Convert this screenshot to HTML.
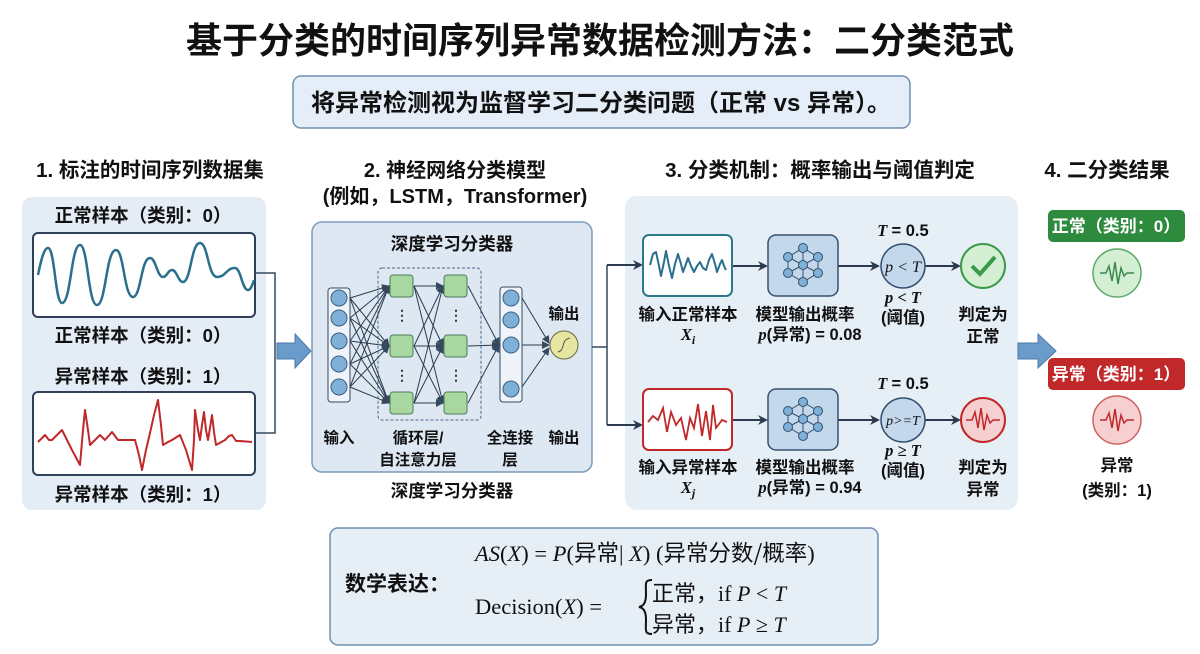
<!DOCTYPE html>
<html><head><meta charset="utf-8">
<style>
html,body{margin:0;padding:0;background:#fff;}
svg{display:block;font-family:"Liberation Sans","Noto Sans CJK SC",sans-serif;}
.b{font-weight:bold;}
.s{font-family:"Liberation Serif","Noto Serif CJK SC",serif;}
</style></head><body>
<svg width="1200" height="654" viewBox="0 0 1200 654" xmlns="http://www.w3.org/2000/svg">
<defs>
<marker id="ah" markerWidth="10" markerHeight="10" refX="8" refY="5" orient="auto" markerUnits="userSpaceOnUse"><path d="M0,0 L10,5 L0,10 L3,5 z" fill="#2b3a4e"/></marker>
<marker id="ah2" markerWidth="8" markerHeight="8" refX="7" refY="4" orient="auto" markerUnits="userSpaceOnUse"><path d="M0,0 L8,4 L0,8 z" fill="#34495e"/></marker>
</defs>
<text x="600" y="53" text-anchor="middle" class="b" font-size="36" fill="#111">基于分类的时间序列异常数据检测方法：二分类范式</text>
<rect x="293" y="76" width="617" height="52" rx="8" fill="#e5eef8" stroke="#6f8fb0" stroke-width="1.5"/>
<text x="601" y="111" text-anchor="middle" class="b" font-size="24" fill="#111">将异常检测视为监督学习二分类问题（正常 vs 异常）。</text>

<text x="150" y="177" text-anchor="middle" class="b" font-size="20.5" fill="#111">1. 标注的时间序列数据集</text>
<text x="455" y="177" text-anchor="middle" class="b" font-size="20" fill="#111">2. 神经网络分类模型</text>
<text x="455" y="203" text-anchor="middle" class="b" font-size="20" fill="#111">(例如，LSTM，Transformer)</text>
<text x="820" y="177" text-anchor="middle" class="b" font-size="20.5" fill="#111">3. 分类机制：概率输出与阈值判定</text>
<text x="1107" y="177" text-anchor="middle" class="b" font-size="20.5" fill="#111">4. 二分类结果</text>

<!-- panel 1 -->
<rect x="22" y="197" width="244" height="313" rx="10" fill="#e4edf6"/>
<text x="143" y="222" text-anchor="middle" class="b" font-size="18.5" fill="#111">正常样本（类别：0）</text>
<rect x="33" y="233" width="222" height="84" rx="5" fill="#fff" stroke="#2f4058" stroke-width="2"/>
<path fill="none" stroke="#2a6f8c" stroke-width="2.5" d="M38,275 C41,260 44,248 48,248 C55,248 55,303 62,303 C71,303 71,245 80,245 C88,245 88,305 97,305 C106,305 106,250 116,250 C124,250 124,297 133,297 C141,297 141,258 150,258 C156,258 157,277 163,277 C167,277 168,270 172,270 C177,270 178,282 183,282 C191,282 191,243 200,243 C208,243 208,277 217,277 C226,277 226,268 235,268 C241,268 242,290 248,290 C251,290 253,283 254,280"/>
<text x="143" y="342" text-anchor="middle" class="b" font-size="18.5" fill="#111">正常样本（类别：0）</text>
<text x="143" y="383" text-anchor="middle" class="b" font-size="18.5" fill="#111">异常样本（类别：1）</text>
<rect x="33" y="392" width="222" height="83" rx="5" fill="#fff" stroke="#2f4058" stroke-width="2"/>
<polyline fill="none" stroke="#c0282a" stroke-width="2" stroke-linejoin="round" points="38,442 42,438 45,435 49,440 52,440 58,434 62,430 67,440 72,450 80,465 83,430 85,410 88,430 90,445 95,440 100,435 105,440 112,432 118,440 127,440 135,440 139,455 142,470 146,450 150,433 154,415 158,400 161,425 163,445 168,442 172,440 180,435 186,450 192,470 194,440 195,410 198,430 200,440 202,425 204,412 206,430 208,440 210,428 212,415 214,432 216,445 225,440 229,436 232,435 236,441 240,441 252,442"/>
<text x="143" y="501" text-anchor="middle" class="b" font-size="18.5" fill="#111">异常样本（类别：1）</text>
<polyline fill="none" stroke="#34495e" stroke-width="1.5" points="255,273 275,273 275,433 255,433"/>
<path d="M277,343 L295,343 L295,334 L311,351 L295,368 L295,359 L277,359 z" fill="#6a9bcb" stroke="#4b7aa8"/>

<!-- panel 2 -->
<rect x="312" y="222" width="280" height="250" rx="10" fill="#dde8f3" stroke="#7d9bbb" stroke-width="1.5"/>
<text x="452" y="250" text-anchor="middle" class="b" font-size="17.5" fill="#111">深度学习分类器</text>
<rect x="378" y="268" width="103" height="152" rx="4" fill="none" stroke="#4a6a8a" stroke-dasharray="3,2"/>
<g stroke="#2b3a4e" stroke-width="1" fill="none" marker-end="url(#ah2)">
<path d="M350,298 L389,286"/><path d="M350,298 L389,346"/><path d="M350,298 L389,403"/>
<path d="M350,318 L389,286"/><path d="M350,318 L389,346"/><path d="M350,318 L389,403"/>
<path d="M350,341 L389,286"/><path d="M350,341 L389,346"/><path d="M350,341 L389,403"/>
<path d="M350,364 L389,286"/><path d="M350,364 L389,346"/><path d="M350,364 L389,403"/>
<path d="M350,387 L389,286"/><path d="M350,387 L389,346"/><path d="M350,387 L389,403"/>
<path d="M414,286 L443,286"/><path d="M414,286 L443,346"/><path d="M414,286 L443,403"/>
<path d="M414,346 L443,286"/><path d="M414,346 L443,346"/><path d="M414,346 L443,403"/>
<path d="M414,403 L443,286"/><path d="M414,403 L443,346"/><path d="M414,403 L443,403"/>
<path d="M468,286 L499,345"/><path d="M468,346 L499,345"/><path d="M468,403 L499,345"/>
<path d="M522,298 L549,343"/><path d="M522,345 L549,345"/><path d="M522,387 L549,348"/>
</g>
<rect x="328" y="288" width="22" height="114" rx="3" fill="#eef4fa" stroke="#34495e"/>
<g fill="#7eb0d8" stroke="#3d5f80"><circle cx="339" cy="298" r="8"/><circle cx="339" cy="318" r="8"/><circle cx="339" cy="341" r="8"/><circle cx="339" cy="364" r="8"/><circle cx="339" cy="387" r="8"/></g>
<g fill="#a8d8a0" stroke="#4f7a5a"><rect x="390" y="275" width="23" height="22" rx="3"/><rect x="390" y="335" width="23" height="22" rx="3"/><rect x="390" y="392" width="23" height="22" rx="3"/><rect x="444" y="275" width="23" height="22" rx="3"/><rect x="444" y="335" width="23" height="22" rx="3"/><rect x="444" y="392" width="23" height="22" rx="3"/></g>
<g font-size="14" class="b" fill="#333" text-anchor="middle"><text x="402" y="320">⋮</text><text x="402" y="380">⋮</text><text x="456" y="320">⋮</text><text x="456" y="380">⋮</text><text x="511" y="374">⋮</text></g>
<rect x="500" y="287" width="22" height="115" rx="3" fill="#eef4fa" stroke="#34495e"/>
<g fill="#7eb0d8" stroke="#3d5f80"><circle cx="511" cy="298" r="8"/><circle cx="511" cy="320" r="8"/><circle cx="511" cy="345" r="8"/><circle cx="511" cy="389" r="8"/></g>
<circle cx="564" cy="345" r="14" fill="#e6e6a0" stroke="#6a6a40"/>
<path d="M558,352 C566,350 560,340 570,338" fill="none" stroke="#555"/>
<text x="564" y="319" text-anchor="middle" class="b" font-size="15.5" fill="#111">输出</text>
<g text-anchor="middle" class="b" font-size="15.5" fill="#111">
<text x="339" y="443">输入</text><text x="418" y="443">循环层/</text><text x="418" y="465">自注意力层</text>
<text x="510" y="443">全连接</text><text x="510" y="465">层</text><text x="564" y="443">输出</text></g>
<text x="452" y="497" text-anchor="middle" class="b" font-size="17.5" fill="#111">深度学习分类器</text>
<polyline fill="none" stroke="#34495e" stroke-width="1.5" points="592,347 607,347"/>
<polyline fill="none" stroke="#34495e" stroke-width="1.5" points="607,265 607,425"/>

<!-- panel 3 -->
<rect x="625" y="196" width="393" height="314" rx="12" fill="#e6eef6"/>
<g stroke="#2b3a4e" stroke-width="2" fill="none" marker-end="url(#ah)">
<path d="M607,265 L641,265"/><path d="M607,425 L641,425"/>
<path d="M732,266 L766,266"/><path d="M838,266 L878,266"/><path d="M925,266 L959,266"/>
<path d="M732,420 L766,420"/><path d="M838,420 L878,420"/><path d="M925,420 L959,420"/>
</g>
<rect x="643" y="235" width="89" height="61" rx="6" fill="#fff" stroke="#2a7a8c" stroke-width="2"/>
<polyline fill="none" stroke="#2a6f8c" stroke-width="2" stroke-linejoin="round" points="650,265 653,254 656,252 659,266 661,276 664,262 666,251 669,266 672,278 675,264 678,254 681,264 683,272 686,264 688,258 691,266 694,272 697,266 700,262 703,268 706,270 709,260 712,254 715,264 717,272 720,264 722,260 724,266 726,270"/>
<rect x="768" y="235" width="70" height="61" rx="8" fill="#c4d8ec" stroke="#34506e" stroke-width="1.5"/>
<rect x="643" y="389" width="89" height="61" rx="6" fill="#fff" stroke="#c0282a" stroke-width="2"/>
<polyline fill="none" stroke="#c0282a" stroke-width="1.8" points="648,422 653,416 658,420 663,408 667,432 671,412 676,425 681,418 686,440 690,418 694,428 698,404 702,436 706,411 710,440 713,405 716,428 722,420 727,422"/>
<rect x="768" y="389" width="70" height="61" rx="8" fill="#c4d8ec" stroke="#34506e" stroke-width="1.5"/>
<g stroke="#34506e" stroke-width="1" fill="#7eb0d8">
<g transform="translate(803,265)"><path d="M-15,-8 L0,-17 L15,-8 L15,8 L0,17 L-15,8 z M-15,-8 L0,0 L15,8 M15,-8 L0,0 L-15,8 M0,-17 L0,17 M-15,-8 L15,8 M-15,8 L15,-8" fill="none"/><circle cx="0" cy="-17" r="4.5"/><circle cx="-15" cy="-8" r="4.5"/><circle cx="15" cy="-8" r="4.5"/><circle cx="0" cy="0" r="4.5"/><circle cx="-15" cy="8" r="4.5"/><circle cx="15" cy="8" r="4.5"/><circle cx="0" cy="17" r="4.5"/></g>
<g transform="translate(803,419)"><path d="M-15,-8 L0,-17 L15,-8 L15,8 L0,17 L-15,8 z M-15,-8 L0,0 L15,8 M15,-8 L0,0 L-15,8 M0,-17 L0,17" fill="none"/><circle cx="0" cy="-17" r="4.5"/><circle cx="-15" cy="-8" r="4.5"/><circle cx="15" cy="-8" r="4.5"/><circle cx="0" cy="0" r="4.5"/><circle cx="-15" cy="8" r="4.5"/><circle cx="15" cy="8" r="4.5"/><circle cx="0" cy="17" r="4.5"/></g>
</g>
<circle cx="903" cy="266" r="22" fill="#c4d8ec" stroke="#34506e" stroke-width="1.5"/>
<text x="903" y="272" text-anchor="middle" class="s" font-style="italic" font-size="16" fill="#111">p &lt; T</text>
<circle cx="903" cy="420" r="22" fill="#c4d8ec" stroke="#34506e" stroke-width="1.5"/>
<text x="903" y="425" text-anchor="middle" class="s" font-style="italic" font-size="14" fill="#111">p&gt;=T</text>
<circle cx="983" cy="266" r="22" fill="#d4efd4" stroke="#3a9a4a" stroke-width="2"/>
<path d="M972,266 L980,274 L995,257" fill="none" stroke="#3a9a4a" stroke-width="4"/>
<circle cx="983" cy="420" r="22" fill="#f6d0d0" stroke="#c0282a" stroke-width="2"/>
<polyline fill="none" stroke="#c0282a" stroke-width="1.5" points="966,420 972,420 975,412 978,428 981,408 984,430 987,415 990,423 993,420 1000,420"/>
<g text-anchor="middle" class="b" font-size="16.5" fill="#111">
<text x="903" y="236" class="s" font-style="italic">T <tspan font-family="Liberation Sans" font-style="normal">= 0.5</tspan></text>
<text x="903" y="389" class="s" font-style="italic">T <tspan font-family="Liberation Sans" font-style="normal">= 0.5</tspan></text>
<text x="688" y="320">输入正常样本</text><text x="688" y="340" class="s" font-style="italic">X<tspan font-size="12" dy="4">i</tspan></text>
<text x="805" y="320">模型输出概率</text><text x="810" y="340"><tspan class="s" font-style="italic">p</tspan>(异常) = 0.08</text>
<text x="903" y="303" class="s" font-style="italic">p &lt; T</text><text x="903" y="323">(阈值)</text>
<text x="983" y="320">判定为</text><text x="983" y="342">正常</text>
<text x="688" y="473">输入异常样本</text><text x="688" y="493" class="s" font-style="italic">X<tspan font-size="12" dy="4">j</tspan></text>
<text x="805" y="473">模型输出概率</text><text x="810" y="493"><tspan class="s" font-style="italic">p</tspan>(异常) = 0.94</text>
<text x="903" y="456" class="s" font-style="italic">p ≥ T</text><text x="903" y="476">(阈值)</text>
<text x="983" y="473">判定为</text><text x="983" y="495">异常</text>
</g>
<path d="M1018,343 L1038,343 L1038,334 L1056,351 L1038,368 L1038,359 L1018,359 z" fill="#6a9bcb" stroke="#4b7aa8"/>

<!-- panel 4 -->
<rect x="1048" y="210" width="137" height="32" rx="5" fill="#2e8b3e"/>
<text x="1116" y="232" text-anchor="middle" class="b" font-size="17" fill="#fff">正常（类别：0）</text>
<circle cx="1117" cy="273" r="24" fill="#d4efd4" stroke="#5aaa6a" stroke-width="1.5"/>
<polyline fill="none" stroke="#3a8a4a" stroke-width="1.5" points="1100,273 1106,273 1109,266 1112,281 1115,262 1118,284 1121,268 1124,276 1127,273 1134,273"/>
<rect x="1048" y="358" width="137" height="32" rx="5" fill="#c0282a"/>
<text x="1116" y="380" text-anchor="middle" class="b" font-size="17" fill="#fff">异常（类别：1）</text>
<circle cx="1117" cy="420" r="24" fill="#f6d0d0" stroke="#d06060" stroke-width="1.5"/>
<polyline fill="none" stroke="#c0282a" stroke-width="1.5" points="1100,420 1106,420 1109,413 1112,428 1115,409 1118,431 1121,415 1124,423 1127,420 1134,420"/>
<text x="1117" y="471" text-anchor="middle" class="b" font-size="16.5" fill="#111">异常</text>
<text x="1117" y="496" text-anchor="middle" class="b" font-size="16.5" fill="#111">(类别：1)</text>

<!-- math -->
<rect x="330" y="528" width="548" height="117" rx="8" fill="#e6eef6" stroke="#6f8fb0" stroke-width="1.5"/>
<text x="345" y="591" class="b" font-size="21" fill="#111">数学表达：</text>
<text x="475" y="561" font-size="22.5" fill="#111" class="s"><tspan font-style="italic">AS</tspan>(<tspan font-style="italic">X</tspan>) = <tspan font-style="italic">P</tspan>(<tspan font-family="Noto Sans CJK SC">异常</tspan>| <tspan font-style="italic">X</tspan>) (<tspan font-family="Noto Sans CJK SC">异常分数/概率</tspan>)</text>
<text x="475" y="614" font-size="22.5" fill="#111" class="s">Decision(<tspan font-style="italic">X</tspan>) =</text>
<path d="M652,580 C644,580 646,584 646,594 C646,602 644,606 639,607 C644,608 646,612 646,620 C646,630 644,634 652,634" fill="none" stroke="#111" stroke-width="2"/>
<text x="652" y="601" font-size="22" fill="#111" class="s"><tspan font-family="Noto Sans CJK SC">正常，</tspan>if <tspan font-style="italic">P</tspan> &lt; <tspan font-style="italic">T</tspan></text>
<text x="652" y="632" font-size="22" fill="#111" class="s"><tspan font-family="Noto Sans CJK SC">异常，</tspan>if <tspan font-style="italic">P</tspan> ≥ <tspan font-style="italic">T</tspan></text>
</svg>
</body></html>
